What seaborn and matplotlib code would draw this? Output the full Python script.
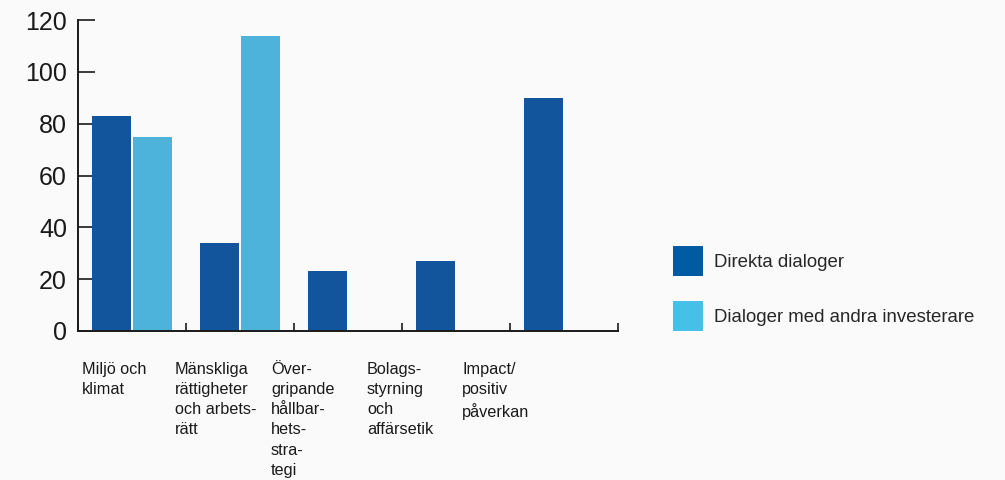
import numpy as np
import pandas as pd
import matplotlib
matplotlib.use('Agg')
import matplotlib.pyplot as plt
from matplotlib.patches import Patch
import seaborn as sns

# data
categories = ['Miljö och\nklimat',
              'Mänskliga\nrättigheter\noch arbets-\nrätt',
              'Över-\ngripande\nhållbar-\nhets-\nstra-\ntegi',
              'Bolags-\nstyrning\noch\naffärsetik',
              'Impact/\npositiv\npåverkan']
series = ['Direkta dialoger', 'Dialoger med andra investerare']
direkta = [83, 34, 23, 27, 90]
andra = [75, 114, np.nan, np.nan, np.nan]
yticks = [0, 20, 40, 60, 80, 100, 120]

df = pd.DataFrame({
    'kategori': categories * 2,
    'serie': [series[0]] * 5 + [series[1]] * 5,
    'antal': direkta + andra,
})

bar_colors = ['#12559d', '#4db3db']
legend_colors = ['#005ba3', '#45c0e6']
bg = '#fafafa'

sns.set_style('ticks')
plt.rcParams['font.family'] = ['Liberation Sans', 'DejaVu Sans']

fig = plt.figure(figsize=(10.05, 4.8), dpi=100, facecolor=bg)
ax = fig.add_axes([78 / 1005, 1 - 331 / 480, 540 / 1005, 311 / 480])
ax.set_facecolor(bg)

sns.barplot(data=df, x='kategori', y='antal', hue='serie', order=categories,
            hue_order=series, palette=bar_colors, width=0.76, gap=0.05,
            saturation=1, linewidth=0, legend=False, ax=ax)

ax.set_xlim(-0.5, 4.5)
ax.set_ylim(0, 120)
ax.set_yticks(yticks)
ax.tick_params(axis='y', direction='in', length=12, width=1.2, labelsize=18,
               pad=8, colors='#1a1a1a')
ax.set_xticks(np.arange(-0.5, 5, 1))
ax.set_xticklabels([])
ax.tick_params(axis='x', direction='in', length=6, width=1.2, colors='#1a1a1a')
ax.set_xlabel('')
ax.set_ylabel('')
sns.despine(ax=ax, top=True, right=True)
for s in ['left', 'bottom']:
    ax.spines[s].set_linewidth(1.4)
    ax.spines[s].set_color('#1a1a1a')

# category labels under the axis
label_px = [82, 175, 271, 367, 462]
for lab, px in zip(categories, label_px):
    fig.text(px / 1005, 1 - 362 / 480, lab, ha='left', va='top', fontsize=11.7,
             linespacing=1.43, color='#1a1a1a')

handles = [Patch(facecolor=c, edgecolor='none') for c in legend_colors]
fig.legend(handles, series, loc='upper left', bbox_to_anchor=(671 / 1005, 1 - 244 / 480),
           frameon=False, fontsize=13.4, handlelength=1.6, handleheight=2.1,
           handletextpad=0.6, labelspacing=1.36, borderaxespad=0, borderpad=0.1)

fig.savefig('out.png', dpi=100, facecolor=bg)
